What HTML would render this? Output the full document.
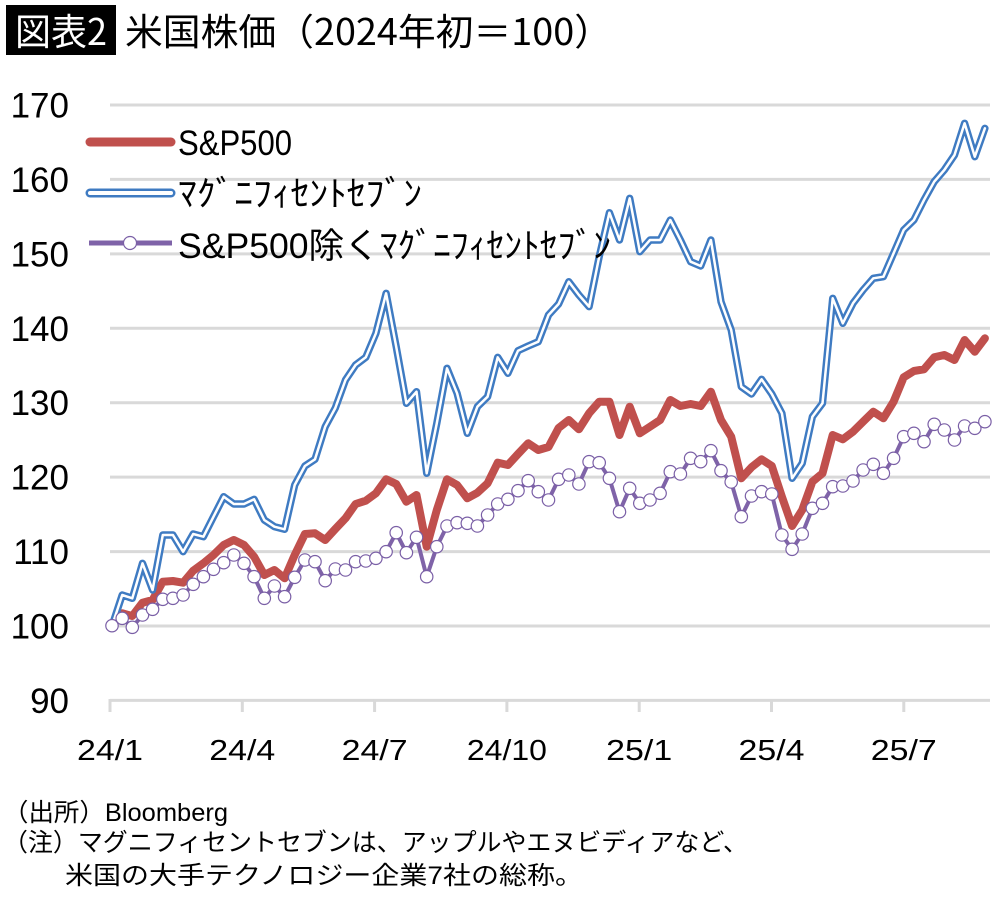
<!DOCTYPE html>
<html>
<head>
<meta charset="utf-8">
<style>
html,body{margin:0;padding:0;background:#fff;}
svg{display:block;}
text{font-family:"Liberation Sans","Noto Sans CJK JP",sans-serif;}
</style>
</head>
<body>
<svg width="1000" height="907" viewBox="0 0 1000 907" xmlns="http://www.w3.org/2000/svg">
<defs>
<marker id="m" markerUnits="userSpaceOnUse" viewBox="0 0 16 16" refX="8" refY="8" markerWidth="16" markerHeight="16">
<circle cx="8" cy="8" r="6.2" fill="#fff" stroke="#7a5fa6" stroke-width="1.2"/>
</marker>
</defs>
<rect x="0" y="0" width="1000" height="907" fill="#fff"/>

<!-- title -->
<rect x="6" y="5" width="110" height="50" fill="#000"/>
<text x="15" y="45" font-size="37" fill="#fff" textLength="92" lengthAdjust="spacingAndGlyphs" style="font-family:'Noto Sans CJK JP',sans-serif">図表2</text>
<text x="125" y="45" font-size="37" fill="#000" textLength="487" lengthAdjust="spacingAndGlyphs" style="font-family:'Noto Sans CJK JP',sans-serif">米国株価（2024年初＝100）</text>

<!-- gridlines -->
<g stroke="#d9d9d9" stroke-width="3">
<line x1="110" y1="105" x2="990" y2="105"/>
<line x1="110" y1="179.4" x2="990" y2="179.4"/>
<line x1="110" y1="253.9" x2="990" y2="253.9"/>
<line x1="110" y1="328.3" x2="990" y2="328.3"/>
<line x1="110" y1="402.7" x2="990" y2="402.7"/>
<line x1="110" y1="477.1" x2="990" y2="477.1"/>
<line x1="110" y1="551.6" x2="990" y2="551.6"/>
<line x1="110" y1="626" x2="990" y2="626"/>
<line x1="110" y1="700.4" x2="990" y2="700.4"/>
<line x1="110" y1="699" x2="110" y2="712"/>
<line x1="242.3" y1="699" x2="242.3" y2="712"/>
<line x1="374.6" y1="699" x2="374.6" y2="712"/>
<line x1="506.9" y1="699" x2="506.9" y2="712"/>
<line x1="639.2" y1="699" x2="639.2" y2="712"/>
<line x1="771.5" y1="699" x2="771.5" y2="712"/>
<line x1="903.8" y1="699" x2="903.8" y2="712"/>
</g>

<!-- y labels -->
<g font-size="35" fill="#000" text-anchor="end">
<text x="69" y="117.5">170</text>
<text x="69" y="191.9">160</text>
<text x="69" y="266.4">150</text>
<text x="69" y="340.8">140</text>
<text x="69" y="415.2">130</text>
<text x="69" y="489.6">120</text>
<text x="69" y="564.1">110</text>
<text x="69" y="638.5">100</text>
<text x="69" y="712.9">90</text>
</g>

<!-- x labels -->
<g font-size="29" fill="#000" text-anchor="middle">
<text x="110" y="760" textLength="66" lengthAdjust="spacingAndGlyphs">24/1</text>
<text x="242.3" y="760" textLength="66" lengthAdjust="spacingAndGlyphs">24/4</text>
<text x="374.6" y="760" textLength="66" lengthAdjust="spacingAndGlyphs">24/7</text>
<text x="506.9" y="760" textLength="80" lengthAdjust="spacingAndGlyphs">24/10</text>
<text x="639.2" y="760" textLength="66" lengthAdjust="spacingAndGlyphs">25/1</text>
<text x="771.5" y="760" textLength="66" lengthAdjust="spacingAndGlyphs">25/4</text>
<text x="903.8" y="760" textLength="66" lengthAdjust="spacingAndGlyphs">25/7</text>
</g>

<!-- red series -->
<polyline fill="none" stroke="#c0504d" stroke-width="8" stroke-linejoin="round" stroke-linecap="round" points="112,626 122.2,613.3 132.3,616 142.5,602.7 152.6,600 162.8,581.7 172.9,581 183.1,582.7 193.2,570.7 203.4,563.3 213.5,555 223.7,545 233.8,540 244,545 254.1,556.7 264.3,575 274.4,570 284.6,578.3 294.7,555 304.9,534 315,533.3 325.2,540 335.3,529 345.5,518.3 355.6,504 365.8,500.7 375.9,493.3 386.1,479.3 396.2,484 406.4,501.7 416.5,495 426.7,546.7 436.8,510 447,479.3 457.1,485 467.3,498.3 477.4,492.7 487.6,483.3 497.7,462.7 507.9,465 518,454 528.2,443.3 538.3,450 548.5,447 558.6,428 568.8,420 578.9,429.3 589.1,413.3 599.2,401.7 609.4,401.7 619.5,435 629.7,406.7 639.8,433.3 650,426.7 660.1,420 670.3,400 680.4,406 690.6,404 700.7,406 710.9,391.7 721,420 731.2,436.7 741.3,478.3 751.5,467.3 761.6,459.3 771.8,466 781.9,496.7 792.1,526 802.2,510 812.4,481.7 822.5,473.3 832.7,435 842.8,439.3 853,431.7 863.1,421.7 873.3,411.7 883.4,418.3 893.6,401.7 903.7,377.3 913.9,371 924,369.3 934.2,357.3 944.3,355 954.5,360 964.6,340 974.8,351.7 984.9,338.3"/>

<!-- blue series (double line) -->
<g fill="none" stroke-linejoin="round" stroke-linecap="round">
<polyline stroke="#3f7bc2" stroke-width="7.4" points="112,626 122.2,595 132.3,598.3 142.5,563.3 152.6,590 162.8,535 172.9,535 183.1,551.7 193.2,534 203.4,536.7 213.5,516.7 223.7,496.7 233.8,504 244,504 254.1,499.3 264.3,520 274.4,526.7 284.6,529.3 294.7,485 304.9,466 315,459.3 325.2,426.7 335.3,408 345.5,380 355.6,365 365.8,357.3 375.9,333.3 386.1,293.3 396.2,346.7 406.4,403.3 416.5,391.7 426.7,473.3 436.8,423.3 447,368.3 457.1,393.3 467.3,433.3 477.4,406.7 487.6,396.7 497.7,357.3 507.9,373.3 518,350.7 528.2,346 538.3,341.7 548.5,315 558.6,304 568.8,281.7 578.9,295 589.1,306.7 599.2,256.7 609.4,212.7 619.5,240 629.7,198.3 639.8,251.7 650,240 660.1,240 670.3,220 680.4,240 690.6,261.7 700.7,266 710.9,240 721,301.7 731.2,330 741.3,386.7 751.5,394 761.6,379.3 771.8,394 781.9,413.3 792.1,478.3 802.2,463.3 812.4,416.7 822.5,403.3 832.7,298.3 842.8,323.3 853,303.3 863.1,290 873.3,278.3 883.4,276.7 893.6,253.3 903.7,230 913.9,220 924,200 934.2,181.7 944.3,170 954.5,155 964.6,123.3 974.8,156.7 984.9,128.3"/>
<polyline stroke="#ffffff" stroke-width="2.5" points="112,626 122.2,595 132.3,598.3 142.5,563.3 152.6,590 162.8,535 172.9,535 183.1,551.7 193.2,534 203.4,536.7 213.5,516.7 223.7,496.7 233.8,504 244,504 254.1,499.3 264.3,520 274.4,526.7 284.6,529.3 294.7,485 304.9,466 315,459.3 325.2,426.7 335.3,408 345.5,380 355.6,365 365.8,357.3 375.9,333.3 386.1,293.3 396.2,346.7 406.4,403.3 416.5,391.7 426.7,473.3 436.8,423.3 447,368.3 457.1,393.3 467.3,433.3 477.4,406.7 487.6,396.7 497.7,357.3 507.9,373.3 518,350.7 528.2,346 538.3,341.7 548.5,315 558.6,304 568.8,281.7 578.9,295 589.1,306.7 599.2,256.7 609.4,212.7 619.5,240 629.7,198.3 639.8,251.7 650,240 660.1,240 670.3,220 680.4,240 690.6,261.7 700.7,266 710.9,240 721,301.7 731.2,330 741.3,386.7 751.5,394 761.6,379.3 771.8,394 781.9,413.3 792.1,478.3 802.2,463.3 812.4,416.7 822.5,403.3 832.7,298.3 842.8,323.3 853,303.3 863.1,290 873.3,278.3 883.4,276.7 893.6,253.3 903.7,230 913.9,220 924,200 934.2,181.7 944.3,170 954.5,155 964.6,123.3 974.8,156.7 984.9,128.3"/>
</g>

<!-- purple series -->
<polyline fill="none" stroke="#7f63a8" stroke-width="4" stroke-linejoin="round" marker-start="url(#m)" marker-mid="url(#m)" marker-end="url(#m)" points="112,625.7 122.2,618.3 132.3,627.3 142.5,615 152.6,609.3 162.8,599.3 172.9,598.3 183.1,595 193.2,584.3 203.4,576.7 213.5,569.3 223.7,562.7 233.8,555 244,563.3 254.1,576.7 264.3,598.3 274.4,586 284.6,596.7 294.7,577.3 304.9,560 315,561.7 325.2,580.7 335.3,569 345.5,570 355.6,561.7 365.8,561 375.9,558.3 386.1,551.7 396.2,532.7 406.4,552.7 416.5,537.3 426.7,576.7 436.8,546.7 447,526 457.1,522.7 467.3,523.3 477.4,526 487.6,515 497.7,504 507.9,499.3 518,490.7 528.2,480.7 538.3,491.7 548.5,500 558.6,479.3 568.8,475 578.9,484 589.1,461.7 599.2,462.7 609.4,478.3 619.5,511.7 629.7,488.3 639.8,503.3 650,500 660.1,493.3 670.3,471.7 680.4,474 690.6,458.3 700.7,461.7 710.9,450.7 721,470.7 731.2,482 741.3,516.7 751.5,496 761.6,491.7 771.8,494 781.9,535 792.1,549.3 802.2,534 812.4,508.3 822.5,503.3 832.7,486.7 842.8,486 853,481 863.1,470 873.3,464.3 883.4,473.3 893.6,458.3 903.7,436.7 913.9,433.3 924,441.7 934.2,424.3 944.3,430 954.5,440 964.6,426 974.8,428.3 984.9,421.7"/>

<!-- legend -->
<line x1="90" y1="142" x2="171" y2="142" stroke="#c0504d" stroke-width="9" stroke-linecap="round"/>
<line x1="90" y1="193" x2="171" y2="193" stroke="#3f7bc2" stroke-width="9" stroke-linecap="round"/>
<line x1="90" y1="193" x2="171" y2="193" stroke="#fff" stroke-width="4" stroke-linecap="round"/>
<line x1="89" y1="243" x2="172" y2="243" stroke="#7f63a8" stroke-width="5"/>
<circle cx="130" cy="243" r="6.5" fill="#fff" stroke="#7a5fa6" stroke-width="1.2"/>
<text x="178" y="155" font-size="35" fill="#000" textLength="114" lengthAdjust="spacingAndGlyphs">S&amp;P500</text>
<text x="178" y="206" font-size="35" fill="#000" textLength="244" lengthAdjust="spacingAndGlyphs">ﾏｸﾞﾆﾌｨｾﾝﾄｾﾌﾞﾝ</text>
<text x="178" y="258" font-size="35" fill="#000" textLength="433" lengthAdjust="spacingAndGlyphs">S&amp;P500除くﾏｸﾞﾆﾌｨｾﾝﾄｾﾌﾞﾝ</text>

<!-- footer -->
<g font-size="25" fill="#000">
<text x="3" y="821" textLength="225" lengthAdjust="spacingAndGlyphs">（出所）Bloomberg</text>
<text x="3" y="851" textLength="745" lengthAdjust="spacingAndGlyphs">（注）マグニフィセントセブンは、アップルやエヌビディアなど、</text>
<text x="65" y="884" textLength="518" lengthAdjust="spacingAndGlyphs">米国の大手テクノロジー企業7社の総称。</text>
</g>
</svg>
</body>
</html>
